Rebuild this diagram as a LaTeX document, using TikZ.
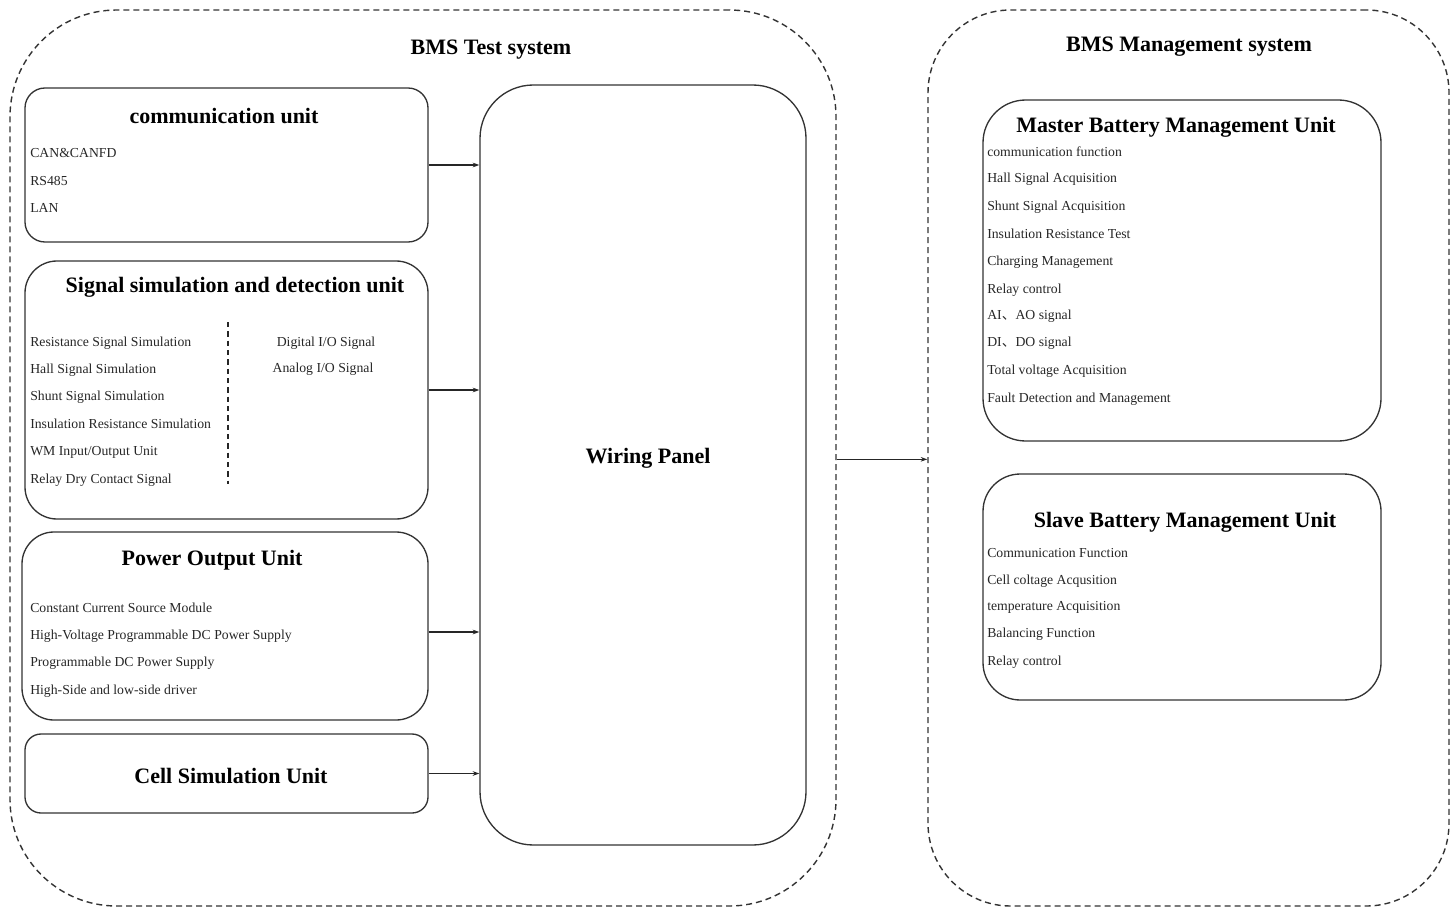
\documentclass[tikz,border=0pt]{standalone}
\usepackage{fontspec}
\setmainfont{Liberation Serif}
\newfontfamily\cjk{Noto Sans CJK SC}
\usetikzlibrary{fit,arrows.meta}
\begin{document}
\begin{tikzpicture}[x=0.75pt,y=-0.75pt,
  box/.style={draw=black!80,line width=1pt,rounded corners=#1,inner sep=0pt},
  box/.default=15pt,
  outer/.style={draw=black!80,line width=1.05pt,dash pattern=on 4.5pt off 3pt,rounded corners=#1,inner sep=0pt},
  outer/.default=80pt,
  title/.style={font=\fontsize{16.5}{19}\selectfont\bfseries,inner sep=0pt,yshift=-2.25pt},
  item/.style={font=\fontsize{10.3}{12}\selectfont,anchor=west,inner sep=0pt,text=black!85,yshift=-1.5pt},
  arr/.style={draw=black!85,line width=1pt,-{Stealth[length=5pt,width=3.5pt]}}]
\useasboundingbox (0,0) rectangle (1451,909);

% outer containers
\node[outer=80pt,fit={(10,10) (836,906)}] (test) {};
\node[outer=62pt,fit={(928,10) (1449,906)}] (mgmt) {};
\node[title] (testT) at (491,47) {BMS Test system};
\node[title] (mgmtT) at (1189,44) {BMS Management system};

% communication unit
\node[box=15pt,fit={(25,88) (428,242)}] (comm) {};
\node[title] (commT) at (224,113) {communication unit};
\node[item] (c1) at (30,151) {CAN\&CANFD};
\node[item] (c2) at (30,179) {RS485};
\node[item] (c3) at (30,206) {LAN};

% signal simulation
\node[box=24pt,fit={(25,261) (428,519)}] (sig) {};
\node[title] (sigT) at (235,284) {Signal simulation and detection unit};
\node[item] (s1) at (30,341) {Resistance Signal Simulation};
\node[item] (s2) at (30,368) {Hall Signal Simulation};
\node[item] (s3) at (30,395) {Shunt Signal Simulation};
\node[item] (s4) at (30,422) {Insulation Resistance Simulation};
\node[item] (s5) at (30,450) {WM Input/Output Unit};
\node[item] (s6) at (30,478) {Relay Dry Contact Signal};
\node[item,anchor=center] (s7) at (326,341) {Digital I/O Signal};
\node[item,anchor=center] (s8) at (323,367) {Analog I/O Signal};
\coordinate (dtop) at (228,322);
\coordinate (dbot) at (228,484);
\draw[black!85,line width=0.9pt,dash pattern=on 4pt off 3pt] (dtop) -- (dbot);

% power output
\node[box=24pt,fit={(22,532) (428,720)}] (pow) {};
\node[title] (powT) at (212,557) {Power Output Unit};
\node[item] (p1) at (30,606) {Constant Current Source Module};
\node[item] (p2) at (30,634) {High-Voltage Programmable DC Power Supply};
\node[item] (p3) at (30,661) {Programmable DC Power Supply};
\node[item] (p4) at (30,689) {High-Side and low-side driver};

% cell simulation
\node[box=12pt,fit={(25,734) (428,813)}] (cell) {};
\node[title] (cellT) at (231,773) {Cell Simulation Unit};

% wiring panel
\node[box=40pt,fit={(480,85) (806,845)}] (wire) {};
\node[title] (wireT) at (648,455) {Wiring Panel};

% master
\node[box=32pt,fit={(983,100) (1381,441)}] (mast) {};
\node[title] (mastT) at (1176,124) {Master Battery Management Unit};
\node[item] (m1) at (987,150) {communication function};
\node[item] (m2) at (987,177) {Hall Signal Acquisition};
\node[item] (m3) at (987,205) {Shunt Signal Acquisition};
\node[item] (m4) at (987,232) {Insulation Resistance Test};
\node[item] (m5) at (987,260) {Charging Management};
\node[item] (m6) at (987,288) {Relay control};
\node[item] (m7) at (987,314) {AI{\cjk 、}AO signal};
\node[item] (m8) at (987,341) {DI{\cjk 、}DO signal};
\node[item] (m9) at (987,369) {Total voltage Acquisition};
\node[item] (m10) at (987,397) {Fault Detection and Management};

% slave
\node[box=28pt,fit={(983,474) (1381,700)}] (slav) {};
\node[title] (slavT) at (1185,519) {Slave Battery Management Unit};
\node[item] (v1) at (987,551) {Communication Function};
\node[item] (v2) at (987,579) {Cell coltage Acqusition};
\node[item] (v3) at (987,605) {temperature Acquisition};
\node[item] (v4) at (987,632) {Balancing Function};
\node[item] (v5) at (987,660) {Relay control};

% arrows
\draw[arr] (comm.east) -- (comm.east -| wire.west);
\draw[arr] (sig.east) -- (sig.east -| wire.west);
\draw[arr] ([yshift=-4.5pt]pow.east) -- ([yshift=-4.5pt]pow.east -| wire.west);
\draw[arr] (cell.east) -- (cell.east -| wire.west);
\draw[arr] ([yshift=-1pt]test.east) -- ([yshift=-1pt]test.east -| mgmt.west);
\end{tikzpicture}
\end{document}
